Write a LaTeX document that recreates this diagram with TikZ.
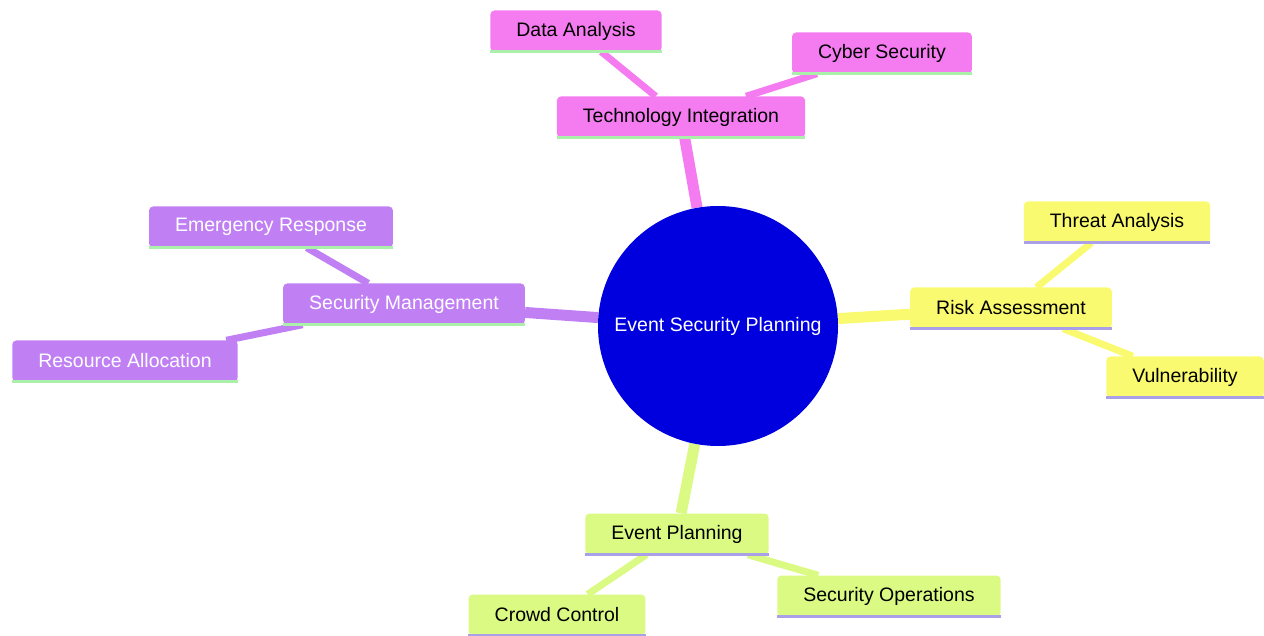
\documentclass[tikz,border=0pt]{standalone}
\usepackage{fontspec}
\setmainfont{Liberation Sans}
\usetikzlibrary{backgrounds}

\definecolor{rootblue}{RGB}{0,0,222}
\definecolor{techpink}{RGB}{244,124,240}
\definecolor{riskyellow}{RGB}{250,250,112}
\definecolor{planlime}{RGB}{218,250,132}
\definecolor{mgmtpurple}{RGB}{192,128,244}
\definecolor{linegreen}{RGB}{170,240,170}
\definecolor{linelav}{RGB}{170,160,232}

\begin{document}
\begin{tikzpicture}[x=1pt,y=-1pt]
\tikzstyle{every node}+=[font=\fontsize{19.5}{23}\selectfont]
\tikzstyle{topic}=[rectangle, rounded corners=4pt, inner xsep=26pt, minimum height=41pt, text=black]
\tikzstyle{branch}=[line width=11pt]
\tikzstyle{twig}=[line width=7pt]
\useasboundingbox (0,0) rectangle (1264,636);

% root
\node [circle, fill=rootblue, minimum size=240pt, text=white] (root) at (718,326) {Event Security Planning};

% technology
\node [topic, fill=techpink] (tech) at (681,117) {Technology Integration};
\node [topic, fill=techpink] (data) at (576,31) {Data Analysis};
\node [topic, fill=techpink] (cyber) at (882,53) {Cyber Security};

% risk
\node [topic, fill=riskyellow] (risk) at (1011,308) {Risk Assessment};
\node [topic, fill=riskyellow] (threat) at (1117,222) {Threat Analysis};
\node [topic, fill=riskyellow] (vuln) at (1185,377) {Vulnerability};

% planning
\node [topic, fill=planlime] (plan) at (677,534) {Event Planning};
\node [topic, fill=planlime] (crowd) at (557,615) {Crowd Control};
\node [topic, fill=planlime] (secops) at (889,596) {Security Operations};

% management
\node [topic, fill=mgmtpurple, text=white] (mgmt) at (404,304) {Security Management};
\node [topic, fill=mgmtpurple, text=white] (emerg) at (271,227) {Emergency Response};
\node [topic, fill=mgmtpurple, text=white] (resrc) at (125,361) {Resource Allocation};

% underlines
\foreach \n in {tech,data,cyber,mgmt,emerg,resrc}
  \draw [linegreen, line width=2.5pt] (\n.south west) -- (\n.south east);
\foreach \n in {risk,threat,vuln,plan,crowd,secops}
  \draw [linelav, line width=2.5pt] (\n.south west) -- (\n.south east);

\begin{pgfonlayer}{background}
\draw [branch, techpink] (root) -- (tech);
\draw [twig, techpink] (tech) -- (data);
\draw [twig, techpink] (tech) -- (cyber);
\draw [branch, riskyellow] (root) -- (risk);
\draw [twig, riskyellow] (risk) -- (threat);
\draw [twig, riskyellow] (risk) -- (vuln);
\draw [branch, planlime] (root) -- (plan);
\draw [twig, planlime] (plan) -- (crowd);
\draw [twig, planlime] (plan) -- (secops);
\draw [branch, mgmtpurple] (root) -- (mgmt);
\draw [twig, mgmtpurple] (mgmt) -- (emerg);
\draw [twig, mgmtpurple] (mgmt) -- (resrc);
\end{pgfonlayer}
\end{tikzpicture}
\end{document}
